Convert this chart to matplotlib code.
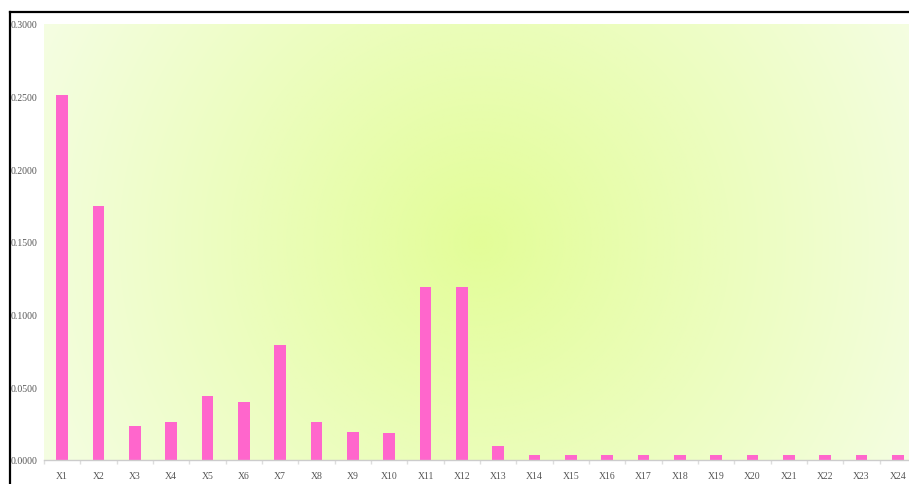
import numpy as np
import matplotlib.pyplot as plt
from matplotlib.colors import to_rgb
from matplotlib.lines import Line2D

# 数据
categories = ['X%d' % i for i in range(1, 25)]
values = [0.2512, 0.1748, 0.0234, 0.0262, 0.0440, 0.0399, 0.0791, 0.0262,
          0.0193, 0.0186, 0.1190, 0.1190, 0.0096, 0.0034, 0.0034, 0.0034,
          0.0034, 0.0034, 0.0034, 0.0034, 0.0034, 0.0034, 0.0034, 0.0034]
yticks = [0.0, 0.05, 0.10, 0.15, 0.20, 0.25, 0.30]

W, H = 909, 485
fig = plt.figure(figsize=(W / 100, H / 100), dpi=100)
fig.patch.set_facecolor('white')

# 绘图区位置（像素）
x0, x1, y_top, y_bot = 44, 916, 25, 461
ax = fig.add_axes([x0 / W, (H - y_bot) / H, (x1 - x0) / W, (y_bot - y_top) / H])

# 径向渐变背景
pw, ph = x1 - x0, y_bot - y_top
xx, yy = np.meshgrid(np.arange(pw), np.arange(ph))
d = np.sqrt((xx - pw / 2) ** 2 + (yy - ph / 2) ** 2) / 500.0
d = np.clip(d, 0, 1)[..., None]
c_in = np.array(to_rgb('#e3fd98'))
c_out = np.array(to_rgb('#f5fde4'))
img = c_in * (1 - d) + c_out * d
n = len(categories)
ax.imshow(img, extent=[-0.5, n - 0.5, 0, 0.3], aspect='auto', zorder=0,
          interpolation='bilinear')

ax.bar(np.arange(n), values, width=0.33, color='#ff66cc', zorder=2)

ax.set_xlim(-0.5, n - 0.5)
ax.set_ylim(0, 0.3)
ax.set_xticks(np.arange(n))
ax.set_xticklabels(categories)
ax.set_xticks(np.arange(n + 1) - 0.5, minor=True)
ax.set_yticks(yticks)
ax.set_yticklabels(['%.4f' % v for v in yticks])

for lab in ax.get_xticklabels() + ax.get_yticklabels():
    lab.set_fontfamily('Liberation Serif')
    lab.set_fontsize(7)
    lab.set_color('#555555')

ax.tick_params(axis='x', which='major', length=0, pad=8)
ax.tick_params(axis='x', which='minor', length=3, color='#dddddd', width=1)
ax.tick_params(axis='y', length=0, pad=5)
for s in ['top', 'right', 'left']:
    ax.spines[s].set_visible(False)
ax.spines['bottom'].set_color('#cccccc')
ax.spines['bottom'].set_linewidth(1)

# 外框线（上、左）
fig.add_artist(Line2D([9.5 / W, 1.0], [1 - 12.5 / H, 1 - 12.5 / H],
                      color='black', linewidth=1.6, transform=fig.transFigure))
fig.add_artist(Line2D([9.5 / W, 9.5 / W], [0, 1 - 12.5 / H],
                      color='black', linewidth=1.6, transform=fig.transFigure))

fig.savefig('out.png', dpi=100)
